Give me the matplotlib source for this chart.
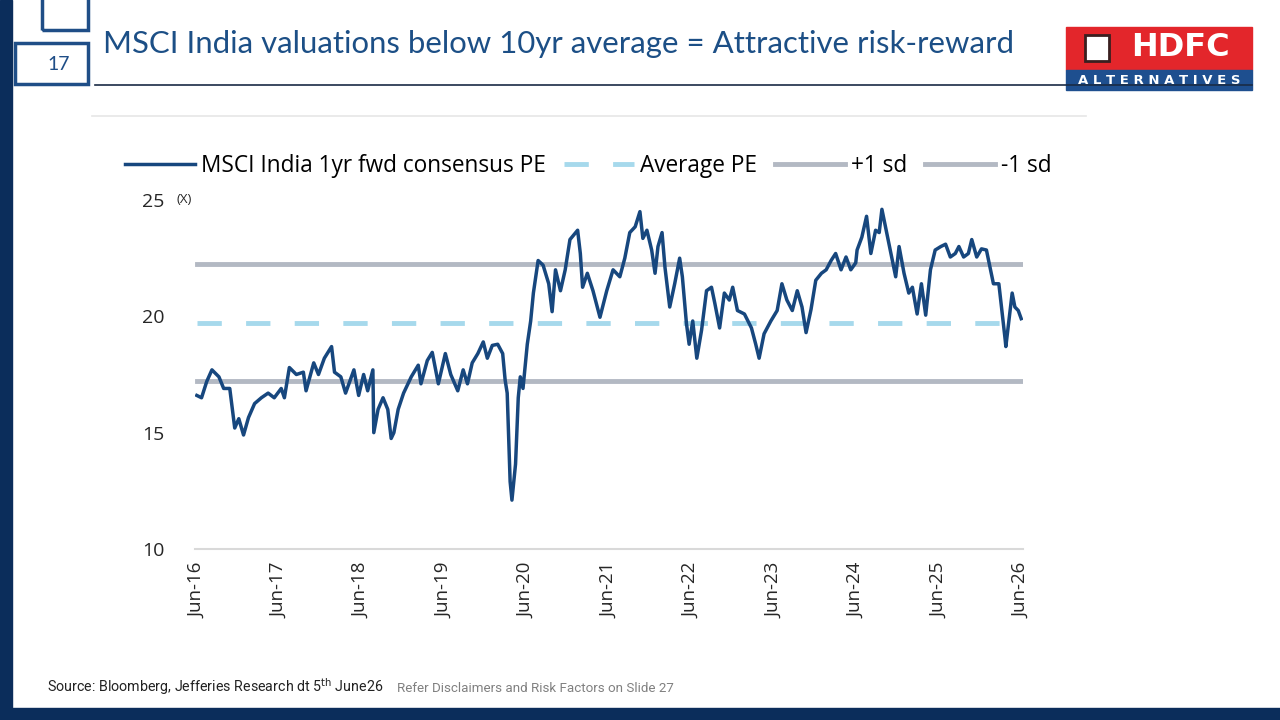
import matplotlib.pyplot as plt
import matplotlib.patches as patches
import pandas as pd

# PE values (approximate)
dates = [
    "2016-06-05", "2016-06-26", "2016-07-19", "2016-08-11", "2016-09-11", "2016-10-02", "2016-10-29",
    "2016-11-20", "2016-12-08", "2016-12-29", "2017-01-20", "2017-02-16", "2017-03-18", "2017-04-17",
    "2017-05-14", "2017-06-14", "2017-06-28", "2017-07-20", "2017-08-20", "2017-09-20", "2017-10-02",
    "2017-11-05", "2017-11-26", "2017-12-22", "2018-01-23", "2018-02-05", "2018-03-05", "2018-03-26",
    "2018-05-02", "2018-05-23", "2018-06-14", "2018-07-02", "2018-07-25", "2018-07-29", "2018-08-17",
    "2018-09-08", "2018-09-29", "2018-10-14", "2018-10-26", "2018-11-14", "2018-12-08", "2019-01-11",
    "2019-02-11", "2019-02-23", "2019-03-23", "2019-04-14", "2019-05-11", "2019-06-11", "2019-07-05",
    "2019-08-05", "2019-08-29", "2019-09-17", "2019-10-08", "2019-11-02", "2019-11-26", "2019-12-14",
    "2020-01-05", "2020-01-29", "2020-02-20", "2020-03-02", "2020-03-11", "2020-03-24", "2020-04-01",
    "2020-04-17", "2020-04-29", "2020-05-08", "2020-05-20", "2020-06-08", "2020-06-23", "2020-07-05",
    "2020-07-26", "2020-08-17", "2020-09-11", "2020-09-26", "2020-10-11", "2020-11-02", "2020-11-23",
    "2020-12-14", "2021-01-17", "2021-01-29", "2021-02-08", "2021-03-01", "2021-03-26", "2021-04-26",
    "2021-05-26", "2021-06-23", "2021-07-23", "2021-08-14", "2021-09-05", "2021-09-29", "2021-10-20",
    "2021-11-02", "2021-11-20", "2021-12-11", "2021-12-26", "2022-01-08", "2022-01-26", "2022-02-08",
    "2022-03-01", "2022-03-23", "2022-04-14", "2022-04-26", "2022-05-14", "2022-05-26", "2022-06-11",
    "2022-06-29", "2022-07-20", "2022-08-11", "2022-09-02", "2022-09-17", "2022-10-08", "2022-10-29",
    "2022-11-20", "2022-12-05", "2022-12-26", "2023-01-26", "2023-02-26", "2023-03-17", "2023-04-01",
    "2023-04-23", "2023-05-23", "2023-06-20", "2023-07-11", "2023-08-02", "2023-08-26", "2023-09-17",
    "2023-10-08", "2023-10-26", "2023-11-17", "2023-12-08", "2024-01-02", "2024-01-23", "2024-02-14",
    "2024-03-05", "2024-03-29", "2024-04-20", "2024-05-11", "2024-06-02", "2024-06-08", "2024-06-29",
    "2024-07-20", "2024-08-08", "2024-08-29", "2024-09-14", "2024-09-26", "2024-10-17", "2024-11-11",
    "2024-11-26", "2024-12-11", "2025-01-02", "2025-01-23", "2025-02-08", "2025-03-01", "2025-03-20",
    "2025-04-08", "2025-04-29", "2025-05-20", "2025-06-14", "2025-07-05", "2025-07-26", "2025-08-17",
    "2025-09-02", "2025-09-23", "2025-10-14", "2025-10-29", "2025-11-20", "2025-12-11", "2026-01-02",
    "2026-01-20", "2026-02-02", "2026-02-26", "2026-03-08", "2026-03-26", "2026-03-29", "2026-04-17",
    "2026-04-26", "2026-05-08", "2026-05-23", "2026-06-05",
]
pe = [
    16.6, 16.5, 17.2, 17.7, 17.4, 16.9, 16.9,
    15.2, 15.6, 14.9, 15.65, 16.25, 16.5, 16.7,
    16.5, 16.9, 16.5, 17.8, 17.5, 17.6, 16.8,
    18.0, 17.5, 18.2, 18.7, 17.6, 17.4, 16.7,
    17.7, 16.6, 17.5, 16.8, 17.7, 15.0, 16.0,
    16.5, 16.0, 14.75, 15.0, 16.0, 16.7, 17.4,
    17.9, 17.1, 18.1, 18.45, 17.1, 18.4, 17.5,
    16.8, 17.7, 17.1, 18.0, 18.4, 18.9, 18.2,
    18.75, 18.8, 18.4, 17.25, 16.7, 12.9, 12.1,
    13.65, 16.5, 17.4, 16.9, 18.8, 19.8, 21.0,
    22.4, 22.2, 21.4, 20.2, 22.0, 21.1, 22.0,
    23.3, 23.7, 22.7, 21.25, 21.85, 21.1, 19.96,
    21.1, 22.0, 21.7, 22.5, 23.6, 23.85, 24.5,
    23.35, 23.7, 22.85, 21.85, 23.0, 23.6, 22.1,
    20.4, 21.4, 22.5, 21.7, 19.7, 18.8, 19.8,
    18.2, 19.4, 21.1, 21.25, 20.55, 19.5, 21.0,
    20.7, 21.25, 20.25, 20.1, 19.5, 18.8, 18.2,
    19.25, 19.8, 20.25, 21.4, 20.7, 20.25, 21.1,
    20.4, 19.3, 20.3, 21.55, 21.85, 22.0, 22.4,
    22.7, 22.0, 22.55, 22.0, 22.3, 22.85, 23.4,
    24.3, 22.7, 23.7, 23.6, 24.6, 23.6, 22.4,
    21.7, 23.0, 21.85, 21.0, 21.25, 20.1, 21.4,
    20.05, 22.0, 22.85, 23.0, 23.1, 22.55, 22.7,
    23.0, 22.55, 22.7, 23.3, 22.55, 22.9, 22.85,
    22.0, 21.4, 21.4, 20.55, 19.0, 18.7, 20.25,
    21.0, 20.4, 20.25, 19.9,
]
avg_pe = 19.7
plus_sd = 22.25
minus_sd = 17.2

tick_dates = ["2016-06-05", "2017-06-05", "2018-06-05", "2019-06-05", "2020-06-05", "2021-06-05",
              "2022-06-05", "2023-06-05", "2024-06-05", "2025-06-05", "2026-06-05"]
tick_labels = ["Jun-16", "Jun-17", "Jun-18", "Jun-19", "Jun-20", "Jun-21",
               "Jun-22", "Jun-23", "Jun-24", "Jun-25", "Jun-26"]
y_ticks = [10, 15, 20, 25]

navy = "#0B2D5B"
line_blue = "#17477E"
avg_col = "#A6D9EC"
sd_col = "#B3B9C3"

x = pd.to_datetime(dates)
xt = pd.to_datetime(tick_dates)

fig = plt.figure(figsize=(12.8, 7.2), dpi=100)
fig.patch.set_facecolor("white")

# slide decorations
fig.add_artist(patches.Rectangle((0, 0), 12 / 1280, 1, transform=fig.transFigure, color=navy, zorder=0))
fig.add_artist(patches.Rectangle((0, 0), 1, 12 / 720, transform=fig.transFigure, color=navy, zorder=0))
fig.add_artist(patches.Rectangle((42 / 1280, 1 - 30 / 720), 46 / 1280, 40 / 720, transform=fig.transFigure,
                                 fill=False, ec="#1F4E87", lw=2.5))
fig.add_artist(patches.Rectangle((15 / 1280, 1 - 84 / 720), 73 / 1280, 41 / 720, transform=fig.transFigure,
                                 facecolor="white", ec="#1F4E87", lw=2.5))
fig.text(59 / 1280, 1 - 64 / 720, "17", ha="center", va="center", fontsize=14, color="#1F4E87",
         family="Lato")
fig.add_artist(plt.Line2D([95 / 1280, 1252 / 1280], [1 - 85 / 720] * 2, color="#1A2B45", lw=1.2))
fig.add_artist(plt.Line2D([92 / 1280, 1086 / 1280], [1 - 116 / 720] * 2, color="#E6E6E6", lw=1.2))
fig.text(103 / 1280, 1 - 44 / 720, "MSCI India valuations below 10yr average = Attractive risk-reward",
         ha="left", va="center", fontsize=22.4, color="#1C4F86", family="Lato")

# logo
fig.add_artist(patches.Rectangle((1066 / 1280, 1 - 70 / 720), 186 / 1280, 43 / 720, transform=fig.transFigure,
                                 color="#E3262B"))
fig.add_artist(patches.Rectangle((1066 / 1280, 1 - 90 / 720), 186 / 1280, 20 / 720, transform=fig.transFigure,
                                 color="#1E4F8F"))
fig.add_artist(patches.Rectangle((1085 / 1280, 1 - 61 / 720), 24 / 1280, 26 / 720, transform=fig.transFigure,
                                 facecolor="white", ec="#3A1F1F", lw=2))
fig.text(1180 / 1280, 1 - 48 / 720, "HDFC", ha="center", va="center", fontsize=23, color="white",
         weight="bold", family="DejaVu Sans")
fig.text(1159 / 1280, 1 - 80 / 720, "A L T E R N A T I V E S", ha="center", va="center", fontsize=9.5,
         color="white", weight="bold", family="DejaVu Sans")

# chart
ax = fig.add_axes([195 / 1280, 1 - 549 / 720, 828 / 1280, 349 / 720])
ax.plot(x, pe, color=line_blue, lw=2.5, label="MSCI India 1yr fwd consensus PE", zorder=4)
ax.plot([x[0], x[-1]], [avg_pe, avg_pe], color=avg_col, lw=3.5, ls=(0, (5, 5)), label="Average PE", zorder=3)
ax.plot([x[0], x[-1]], [plus_sd, plus_sd], color=sd_col, lw=3.5, label="+1 sd", zorder=2)
ax.plot([x[0], x[-1]], [minus_sd, minus_sd], color=sd_col, lw=3.5, label="-1 sd", zorder=2)

ax.set_ylim(10, 25)
ax.set_xlim(xt[0] - pd.Timedelta(days=8), xt[-1] + pd.Timedelta(days=8))
ax.set_yticks(y_ticks)
ax.set_xticks(xt)
ax.set_xticklabels(tick_labels, rotation=90, fontsize=13.5, family="Open Sans", color="#262626")
ax.set_yticklabels([str(v) for v in y_ticks], fontsize=14, family="Open Sans", color="#262626")
ax.tick_params(axis="both", length=0)
ax.tick_params(axis="y", pad=22)
ax.tick_params(axis="x", pad=10)
for s in ["top", "right", "left"]:
    ax.spines[s].set_visible(False)
ax.spines["bottom"].set_color("#D9D9D9")
ax.spines["bottom"].set_linewidth(1.5)
ax.text(-0.022, 1.0, "(X)", transform=ax.transAxes, fontsize=9.5, family="Open Sans", color="#262626",
        ha="left", va="center")

ax.legend(loc="center", bbox_to_anchor=(0.475, 1.098), ncol=4, frameon=False, handlelength=3.1,
          handletextpad=0.25, columnspacing=0.8, prop={"family": "Open Sans", "size": 16.3})

fig.text(47 / 1280, 1 - 687 / 720, r"Source: Bloomberg, Jefferies Research dt 5$^{\mathrm{th}}$ June26",
         fontsize=10.3, family="Roboto", color="#222222", ha="left", va="center")
fig.text(397 / 1280, 1 - 688 / 720, "Refer Disclaimers and Risk Factors on Slide 27",
         fontsize=9.6, family="Roboto", color="#808080", ha="left", va="center")

fig.savefig("out.png", dpi=100)
